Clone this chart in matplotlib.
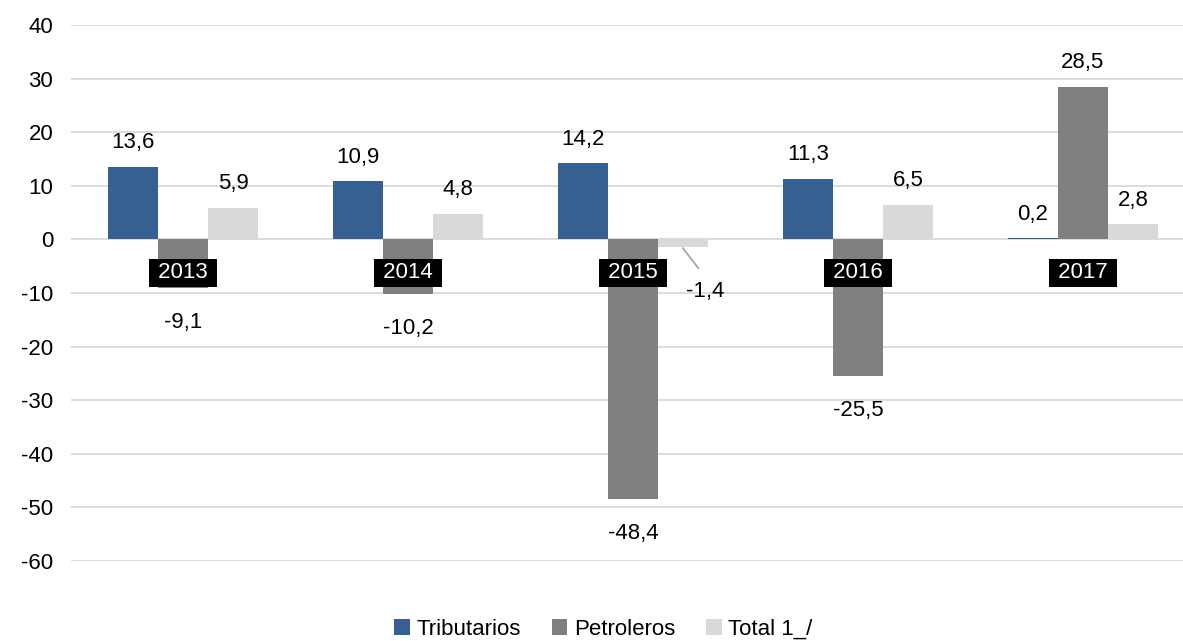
import matplotlib.pyplot as plt
import numpy as np

# data
years = ['2013', '2014', '2015', '2016', '2017']
tributarios = [13.6, 10.9, 14.2, 11.3, 0.2]
petroleros = [-9.1, -10.2, -48.4, -25.5, 28.5]
total = [5.9, 4.8, -1.4, 6.5, 2.8]

series = [('Tributarios', tributarios, '#376092'),
          ('Petroleros', petroleros, '#7f7f7f'),
          ('Total 1_/', total, '#d9d9d9')]

plt.rcParams['font.family'] = ['Liberation Sans', 'DejaVu Sans']
plt.rcParams['axes.unicode_minus'] = False

fig = plt.figure(figsize=(11.83, 6.41), dpi=100)
# plot area runs a bit past the right edge of the image, like the original
ax = fig.add_axes([70.5 / 1183, 1 - 561 / 641, 1125 / 1183, 536 / 641])

x = np.arange(len(years))
w = 0.2222
fs = 16
fmt = lambda v: ('%.1f' % v).replace('.', ',')

for i, (name, vals, col) in enumerate(series):
    pos = x + (i - 1) * w
    ax.bar(pos, vals, w, color=col, label=name, zorder=2)
    for xp, v in zip(pos, vals):
        if name == 'Total 1_/' and v < 0:
            # small negative value: label moved aside with a leader line
            ax.plot([xp, xp + 0.068], [v - 0.25, v - 3.95], color='#a6a6a6', lw=1.3, zorder=3)
            ax.text(xp + 0.1, v - 8.4, fmt(v), ha='center', va='center', fontsize=fs)
        elif v >= 0:
            ax.annotate(fmt(v), (xp, v), xytext=(0, 13.3), textcoords='offset points',
                        ha='center', va='baseline', fontsize=fs)
        else:
            ax.annotate(fmt(v), (xp, v), xytext=(0, -29), textcoords='offset points',
                        ha='center', va='baseline', fontsize=fs)

# year labels on black boxes
for xp, yr in zip(x, years):
    ax.text(xp, -6.25, ' ' + yr + ' ', ha='center', va='center', color='white', fontsize=fs,
            bbox=dict(boxstyle='square,pad=0.15', fc='black', ec='none'), zorder=5)

ax.set_xlim(-0.5, len(years) - 0.5)
ax.set_ylim(-60, 40)
ax.set_yticks(range(-60, 41, 10))
ax.tick_params(axis='y', labelsize=fs, length=0, pad=12.5)
ax.set_xticks([])
ax.grid(axis='y', color='#d9d9d9', lw=1.3, zorder=0)
for s in ax.spines.values():
    s.set_visible(False)

fig.legend(loc='center', bbox_to_anchor=(0.51, 0.018), ncol=3, frameon=False,
           fontsize=fs, handlelength=0.7, handleheight=0.7, handletextpad=0.3,
           columnspacing=1.4)

fig.savefig('out.png', dpi=100)
